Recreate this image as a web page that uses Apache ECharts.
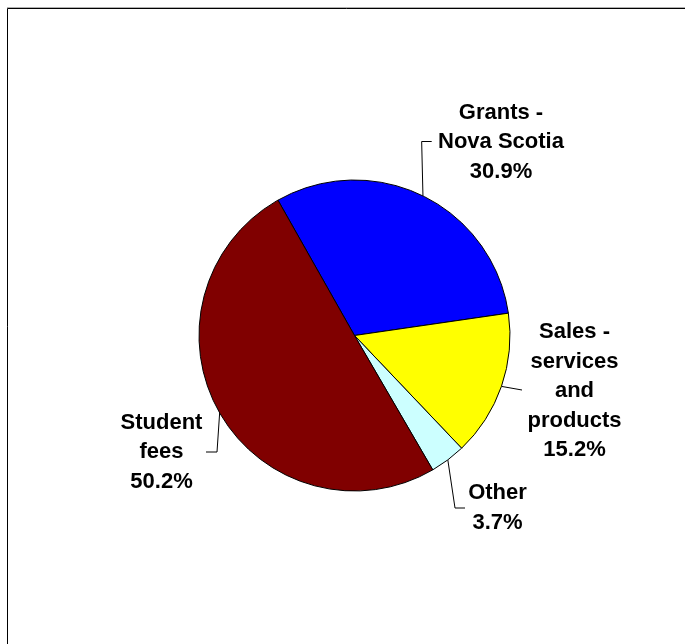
<!DOCTYPE html>
<html>
<head>
<meta charset="utf-8">
<style>
  html, body { margin: 0; padding: 0; background: #fff; }
  #chart { width: 685px; height: 644px; }
</style>
<script src="https://cdn.jsdelivr.net/npm/echarts@6/dist/echarts.min.js"></script>
</head>
<body>
<div id="chart"></div>
<script>
// ---- Data ----
const categories = ['Grants -\nNova Scotia', 'Sales -\nservices\nand\nproducts', 'Other', 'Student\nfees'];
const values = [30.9, 15.2, 3.7, 50.2];
const colors = ['#0000FF', '#FFFF00', '#CCFFFF', '#800000'];

// ---- Layout (positions, not data) ----
const CX = 354.5, CY = 335.5, R = 155.5, START = 119.5;
const labelCenters = [[501, 142], [574.5, 391], [497.5, 508], [161.5, 452]];
const elbows = [
  function (e) { return [[e[0] - 1.3, 141.5], [431.7, 141.5]]; },
  function (e) { return [[522, 390], [522, 390]]; },
  function (e) { return [[455, 508], [465, 508]]; },
  function (e) { return [[217, 452], [206, 452]]; }
];

const total = values.reduce((a, b) => a + b, 0);
function edgePoint(i) {
  let cum = 0;
  for (let k = 0; k < i; k++) cum += values[k];
  const mid = START - (cum + values[i] / 2) / total * 360;
  const a = mid * Math.PI / 180;
  return [CX + R * Math.cos(a), CY - R * Math.sin(a)];
}

const chart = echarts.init(document.getElementById('chart'), null, { renderer: 'canvas' });
chart.setOption({
  backgroundColor: '#ffffff',
  animation: false,
  graphic: [
    { type: 'line', shape: { x1: 7, y1: 7.5, x2: 685, y2: 7.5 }, style: { stroke: '#b0b0b0', lineWidth: 1 }, silent: true },
    { type: 'rect', shape: { x: 7.5, y: 8.5, width: 720, height: 700 }, style: { fill: 'none', stroke: '#000', lineWidth: 1 }, silent: true }
  ],
  series: [{
    type: 'pie',
    center: [CX, CY],
    radius: R,
    startAngle: START,
    clockwise: true,
    avoidLabelOverlap: false,
    data: categories.map((c, i) => ({ name: c, value: values[i], itemStyle: { color: colors[i] } })),
    itemStyle: { borderColor: '#000', borderWidth: 1 },
    emphasis: { disabled: true },
    label: {
      show: true,
      position: 'outside',
      formatter: function (p) { return p.name + '\n' + values[p.dataIndex].toFixed(1) + '%'; },
      color: '#000',
      fontFamily: "'Liberation Sans', Arial, sans-serif",
      fontWeight: 'bold',
      fontSize: 22,
      lineHeight: 29.5,
      align: 'center'
    },
    labelLine: {
      show: true,
      length: 10,
      length2: 10,
      smooth: false,
      lineStyle: { color: '#000', width: 1 }
    },
    labelLayout: function (p) {
      const i = p.dataIndex;
      const e = edgePoint(i);
      const el = elbows[i](e);
      return {
        x: labelCenters[i][0],
        y: labelCenters[i][1],
        align: 'center',
        verticalAlign: 'middle',
        labelLinePoints: [e, el[0], el[1]]
      };
    }
  }]
});
</script>
</body>
</html>
